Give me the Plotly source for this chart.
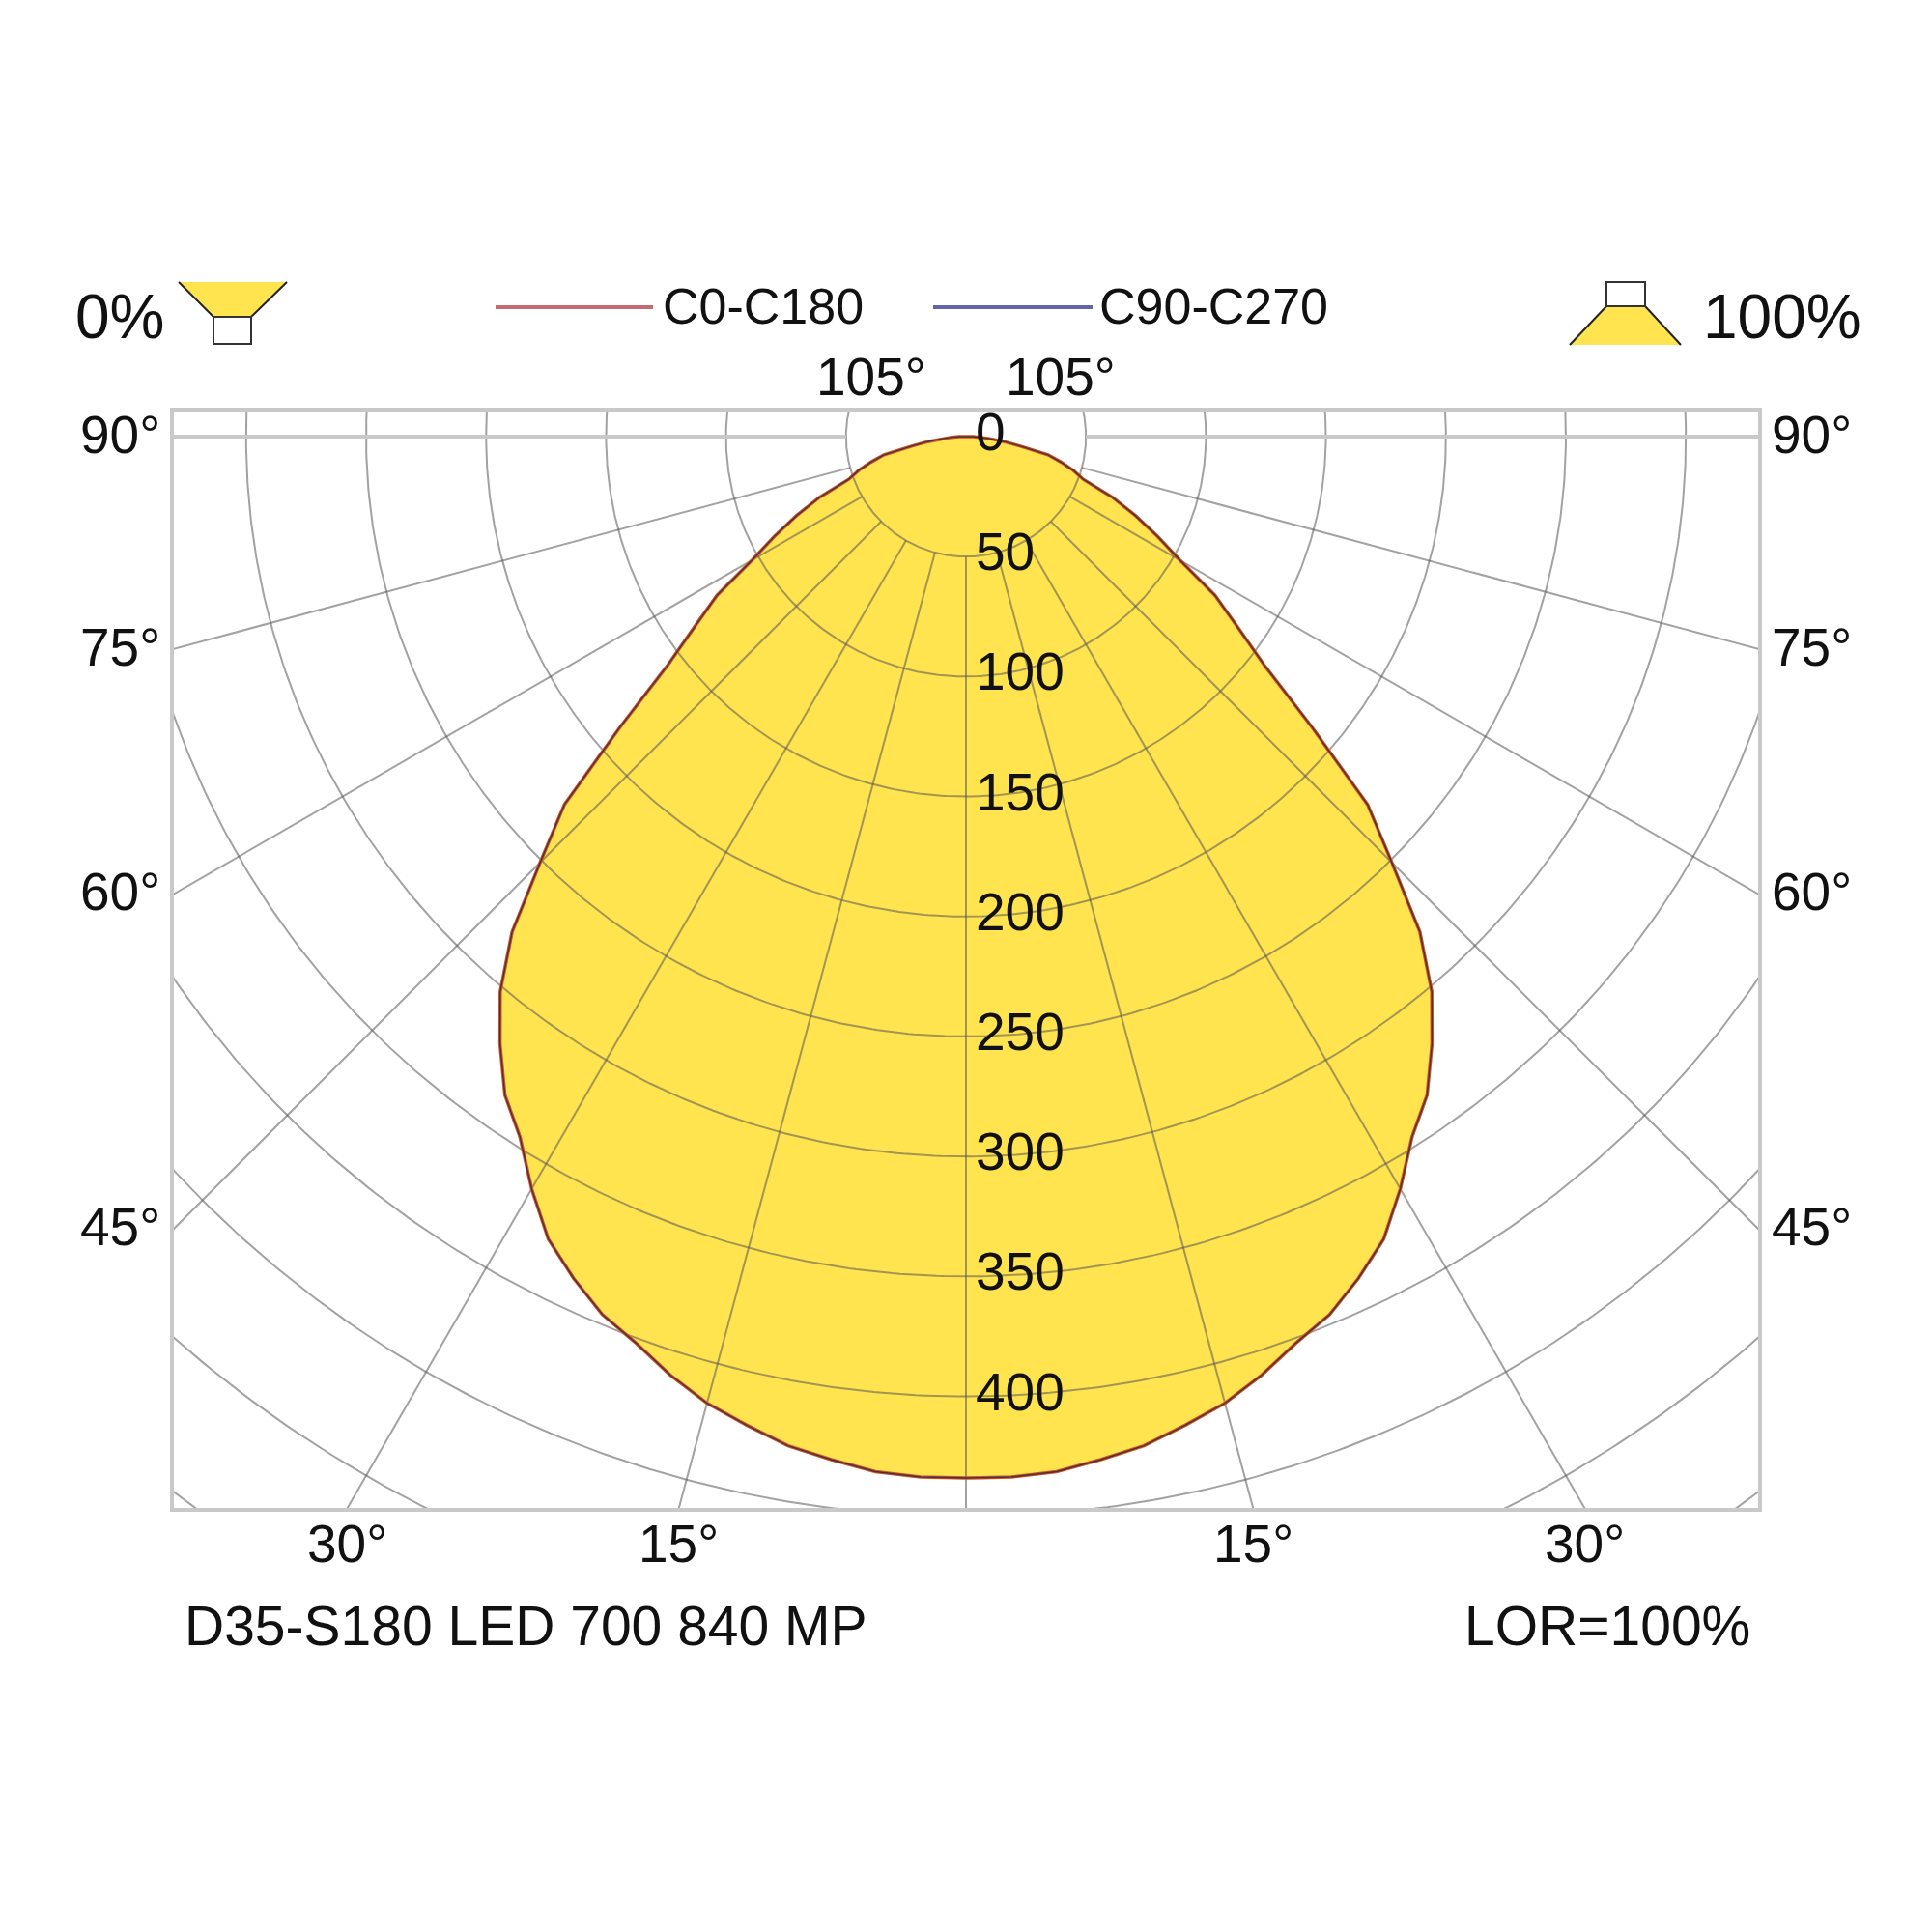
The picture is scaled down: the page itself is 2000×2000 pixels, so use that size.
import numpy as np
import plotly.graph_objects as go

# Light distribution curve (cd/klm), gamma angle from nadir
gamma = [0, 2.5, 5, 7.5, 10, 12.5, 15, 17.5, 20, 22.5, 25, 27.5, 30, 32.5, 35, 37.5,
         40, 42.5, 45, 47.5, 50, 52.5, 55, 57.5, 60, 62.5, 65, 67.5, 70, 72.5, 75,
         77.5, 80, 82.5, 85, 87.5, 90, 92.5, 95, 180]
i_c0_c180 = [434, 434, 433, 430, 427, 422, 417, 410, 402, 396, 387, 377, 362, 346, 335, 319,
             302, 280, 251, 227, 188, 157, 138, 123, 103, 90, 78, 66, 52, 47, 41,
             35, 23, 16, 10, 6, 3, 1, 0, 0]
i_c90_c270 = [434, 434, 433, 430, 427, 422, 417, 410, 402, 396, 387, 377, 362, 346, 335, 319,
              302, 280, 251, 227, 188, 157, 138, 123, 103, 90, 78, 66, 52, 47, 41,
              35, 23, 16, 10, 6, 3, 1, 0, 0]

ring_values = [50, 100, 150, 200, 250, 300, 350, 400, 450, 500, 550]
ring_labels = [0, 50, 100, 150, 200, 250, 300, 350, 400]
radial_angles = [0, 15, 30, 45, 60, 75, 90, 105]
side_labels = [90, 75, 60, 45]
bottom_labels = [30, 15]

title_text = "D35-S180 LED 700 840 MP"
lor_text = "LOR=100%"

# page geometry (pixels)
PX = 2.484                  # pixels per cd
BOX_L, BOX_R, BOX_T, BOX_B = 180, 1820, 426, 1561
CX, CY = 1000, 452          # pole of the diagram
OFF = 8                     # body margin of the page

x_half = (BOX_R - CX) / PX
y_top = (CY - BOX_T) / PX
y_bot = -(BOX_B - CY) / PX

FILL = "#FFE34F"
RED = "#D0561E"
BLUE = "#4A2E46"
GRID = "rgba(85,85,85,0.55)"
BOXC = "#C9C9C9"
FONT = "Liberation Sans, Arial, sans-serif"


def px(X):
    return (X - BOX_L) / (BOX_R - BOX_L)


def py(Y):
    return (BOX_B - Y) / (BOX_B - BOX_T)


def half_curve(values, side):
    g = np.radians(gamma)
    v = np.array(values, dtype=float)
    return side * v * np.sin(g), -v * np.cos(g)


fig = go.Figure()

# filled polygon: left half from 180 down to 0, then right half 0 to 180
lx, ly = half_curve(i_c0_c180, -1)
rx, ry = half_curve(i_c0_c180, 1)
fig.add_trace(go.Scatter(x=list(lx[::-1]) + list(rx), y=list(ly[::-1]) + list(ry),
                         mode="lines", fill="toself", fillcolor=FILL,
                         line=dict(width=0), hoverinfo="skip"))

# rings
t = np.linspace(0, 2 * np.pi, 721)
gx, gy = [], []
for r in ring_values:
    gx += list(r * np.sin(t)) + [None]
    gy += list(r * np.cos(t)) + [None]
fig.add_trace(go.Scatter(x=gx, y=gy, mode="lines", line=dict(color=GRID, width=2),
                         hoverinfo="skip"))

# radial lines starting at the first ring
sx, sy = [], []
hx, hy = [], []
for a in radial_angles:
    for s in ([1] if a == 0 else [-1, 1]):
        ar = np.radians(a)
        xs = [s * 50 * np.sin(ar), s * 800 * np.sin(ar), None]
        ys = [-50 * np.cos(ar), -800 * np.cos(ar), None]
        if a == 90:
            hx += xs
            hy += ys
        else:
            sx += xs
            sy += ys
fig.add_trace(go.Scatter(x=sx, y=sy, mode="lines", line=dict(color=GRID, width=2),
                         hoverinfo="skip"))
fig.add_trace(go.Scatter(x=hx, y=hy, mode="lines", line=dict(color=BOXC, width=4),
                         hoverinfo="skip"))

# C-plane curves (C90-C270 lies under C0-C180)
for values, col, w in [(i_c0_c180, RED, 3.5), (i_c90_c270, BLUE, 1.4)]:
    lx, ly = half_curve(values, -1)
    rx, ry = half_curve(values, 1)
    fig.add_trace(go.Scatter(x=list(lx[::-1]) + list(rx), y=list(ly[::-1]) + list(ry),
                             mode="lines", line=dict(color=col, width=w), hoverinfo="skip"))


def page_of(xc, yc):
    # diagram units (cd) -> page pixels
    return CX + xc * PX, CY - yc * PX


ann = []
LAB = dict(size=55, color="#111")


def label(X, Y, text, xa="center", font=LAB):
    ann.append(dict(x=px(X), y=py(Y), xref="paper", yref="paper", text=text,
                    showarrow=False, xanchor=xa, yanchor="middle", font=font))


# ring values along the vertical axis
for v in ring_labels:
    X, Y = page_of(0, -v)
    label(X + 8, Y - 5, str(v), "left")

# angle labels on both sides of the box
for a in side_labels:
    yv = 0 if a == 90 else -x_half / np.tan(np.radians(a))
    _, Y = page_of(0, yv)
    label(BOX_L - 12, Y - 2, f"{a}°", "right")
    label(BOX_R + 12, Y - 2, f"{a}°", "left")

for a in bottom_labels:
    xv = -y_bot * np.tan(np.radians(a))
    for s in [-1, 1]:
        X, _ = page_of(s * xv, 0)
        label(X, BOX_B + 37, f"{a}°")

for s in [-1, 1]:
    X, _ = page_of(s * 50 * np.sin(np.radians(105)) * 0.82, 0)
    label(X, 390, "105°")

# header and footer texts
label(124, 328, "0%", font=dict(size=64, color="#111"))
label(1845, 328, "100%", font=dict(size=64, color="#111"))
label(684, 317, "C0-C180", "left", font=dict(size=52, color="#111"))
label(1136, 317, "C90-C270", "left", font=dict(size=52, color="#111"))
label(189, 1683, title_text, "left", font=dict(size=57, color="#111"))
label(1814, 1683, lor_text, "right", font=dict(size=57, color="#111"))

shapes = []
# legend lines
shapes.append(dict(type="line", xref="paper", yref="paper", x0=px(513), x1=px(676),
                   y0=py(318), y1=py(318), line=dict(color="#C46A70", width=4)))
shapes.append(dict(type="line", xref="paper", yref="paper", x0=px(966), x1=px(1131),
                   y0=py(318), y1=py(318), line=dict(color="#6464AA", width=4)))


def poly(points):
    return "M " + " L ".join(f"{px(a):.5f},{py(b):.5f}" for a, b in points) + " Z"


# luminaire icon, upward share
shapes.append(dict(type="path", xref="paper", yref="paper",
                   path=poly([(185, 292), (297, 292), (260, 328), (221, 328)]),
                   fillcolor=FILL, line=dict(width=0)))
shapes.append(dict(type="line", xref="paper", yref="paper", x0=px(185), y0=py(292),
                   x1=px(221), y1=py(328), line=dict(color="#222", width=2)))
shapes.append(dict(type="line", xref="paper", yref="paper", x0=px(297), y0=py(292),
                   x1=px(260), y1=py(328), line=dict(color="#222", width=2)))
shapes.append(dict(type="rect", xref="paper", yref="paper", x0=px(221), x1=px(260),
                   y0=py(356), y1=py(328), fillcolor="white", line=dict(color="#333", width=2)))

# luminaire icon, downward share
shapes.append(dict(type="path", xref="paper", yref="paper",
                   path=poly([(1663, 317), (1703, 317), (1740, 357), (1625, 357)]),
                   fillcolor=FILL, line=dict(width=0)))
shapes.append(dict(type="line", xref="paper", yref="paper", x0=px(1663), y0=py(317),
                   x1=px(1625), y1=py(357), line=dict(color="#222", width=2)))
shapes.append(dict(type="line", xref="paper", yref="paper", x0=px(1703), y0=py(317),
                   x1=px(1740), y1=py(357), line=dict(color="#222", width=2)))
shapes.append(dict(type="rect", xref="paper", yref="paper", x0=px(1663), x1=px(1703),
                   y0=py(317), y1=py(292), fillcolor="white", line=dict(color="#333", width=2)))

W = 2000 - 2 * OFF
fig.update_layout(
    width=W, height=W, autosize=False,
    margin=dict(l=BOX_L - OFF, r=W - (BOX_R - OFF), t=BOX_T - OFF, b=W - (BOX_B - OFF), pad=0),
    paper_bgcolor="white", plot_bgcolor="white",
    showlegend=False,
    font=dict(family=FONT, color="#111"),
    annotations=ann, shapes=shapes,
)
fig.update_xaxes(range=[-x_half, x_half], showgrid=False, zeroline=False,
                 showticklabels=False, ticks="", showline=True, mirror=True,
                 linecolor=BOXC, linewidth=4, fixedrange=True)
fig.update_yaxes(range=[y_bot, y_top], showgrid=False, zeroline=False,
                 showticklabels=False, ticks="", showline=True, mirror=True,
                 linecolor=BOXC, linewidth=4, fixedrange=True)

fig.write_html("out.html")
